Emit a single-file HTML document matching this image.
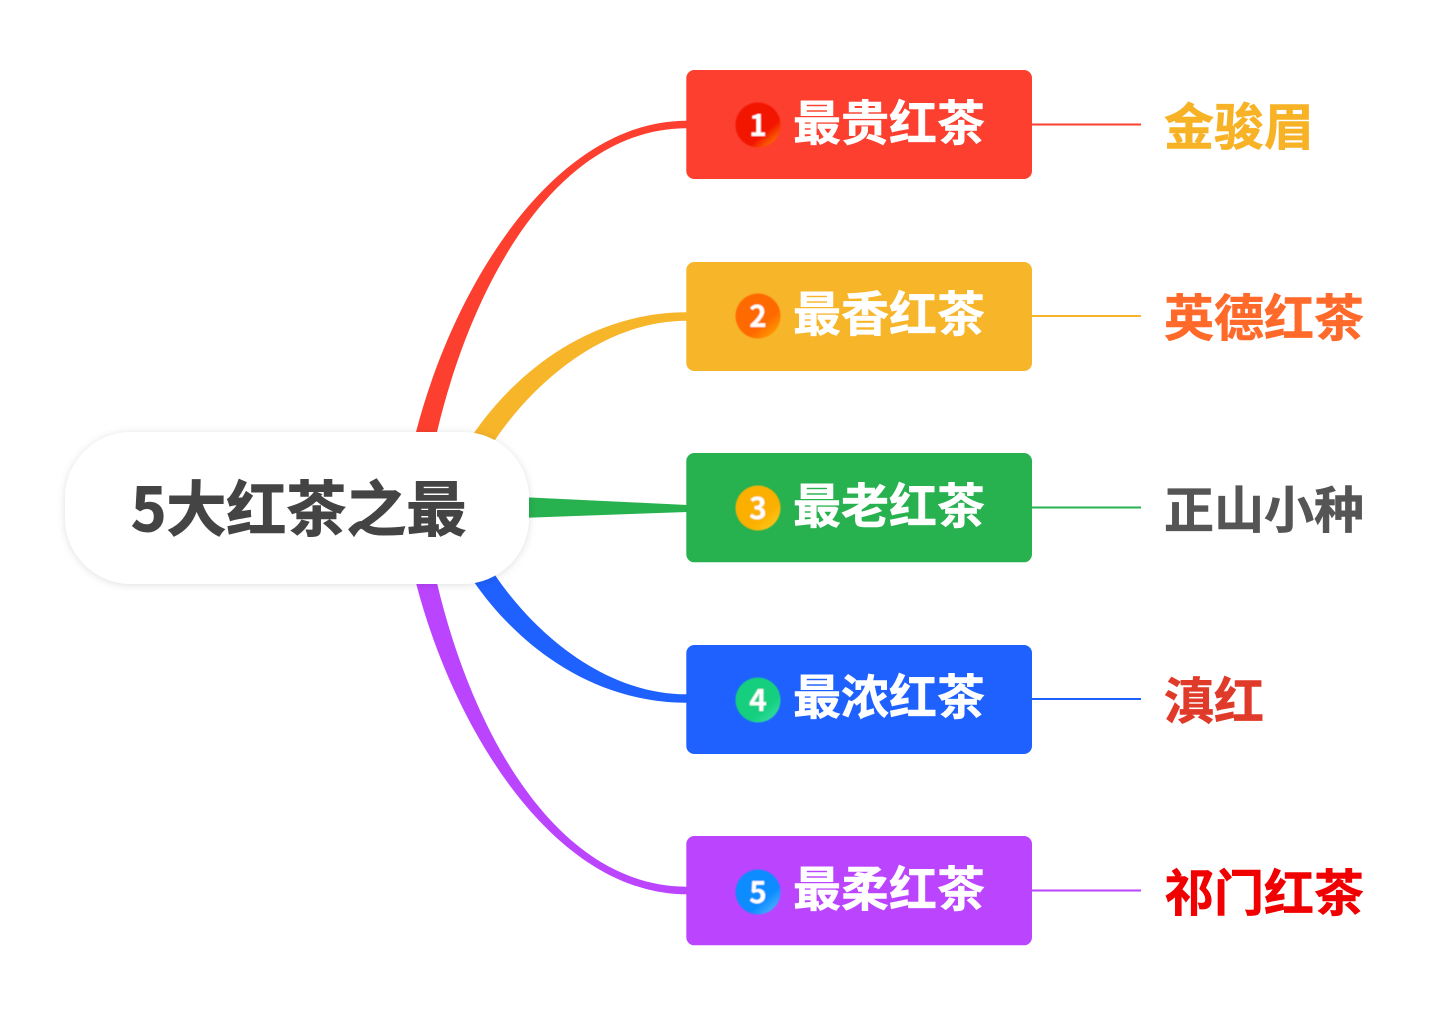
<!DOCTYPE html>
<html lang="zh"><head><meta charset="utf-8"><title>5大红茶之最</title>
<style>
html,body{margin:0;padding:0;background:#fff;width:1440px;height:1015px;overflow:hidden}
svg{display:block;filter:blur(0.35px)}
text{font-family:"Noto Sans CJK SC","Liberation Sans",sans-serif;font-weight:700}
.b{font-size:48px;fill:#fff;stroke:#fff;stroke-width:.5px}
.r{font-size:50px;stroke-width:.6px}
.n{font-size:30px;fill:#fff;font-weight:700;text-anchor:middle}
</style></head><body>
<svg width="1440" height="1015" viewBox="0 0 1440 1015" xmlns="http://www.w3.org/2000/svg">
<defs>
<linearGradient id="g1" x1="0.2" y1="0.2" x2="0.9" y2="1"><stop offset="0.6" stop-color="#f21300"/><stop offset="1" stop-color="#ff8a00"/></linearGradient>
<linearGradient id="g2" x1="0.2" y1="0.2" x2="0.9" y2="1"><stop offset="0.6" stop-color="#ff6a00"/><stop offset="1" stop-color="#ffa800"/></linearGradient>
<linearGradient id="g3" x1="0.2" y1="0.2" x2="0.9" y2="1"><stop offset="0.6" stop-color="#fbb000"/><stop offset="1" stop-color="#ffcc22"/></linearGradient>
<linearGradient id="g4" x1="0.2" y1="0.2" x2="0.9" y2="1"><stop offset="0.6" stop-color="#12cf7e"/><stop offset="1" stop-color="#3fe0a8"/></linearGradient>
<linearGradient id="g5" x1="0.2" y1="0.2" x2="0.9" y2="1"><stop offset="0.6" stop-color="#0a8cff"/><stop offset="1" stop-color="#5cb8ff"/></linearGradient>
<filter id="sh" x="-10%" y="-20%" width="120%" height="140%"><feDropShadow dx="0" dy="1" stdDeviation="4" flood-color="#000" flood-opacity="0.13"/></filter>
<filter id="bl" x="-10%" y="-10%" width="120%" height="120%"><feGaussianBlur stdDeviation="0.6"/></filter>
</defs>

<path d="M414,440 L416,432 C455,282 556,120.7 687,120.7 L687,128.3 C560,128.3 474,276 437,432 L435,440 Z" fill="#FC3F2F"/>
<path d="M468,442 L474,433 C512,378 585,312.3 687,312.3 L687,320.7 C600,320.7 530,388 495,440 L492,446 Z" fill="#F7B52A"/>
<path d="M520,497 L687,505 L687,512 L520,518 Z" fill="#27B14F"/>
<path transform="matrix(1 0 0 -1 0 1015)" d="M468,442 L474,433 C512,378 585,312.3 687,312.3 L687,320.7 C600,320.7 530,388 495,440 L492,446 Z" fill="#1F61FF"/>
<path transform="matrix(1 0 0 -1 0 1015)" d="M414,440 L416,432 C455,282 556,120.7 687,120.7 L687,128.3 C560,128.3 474,276 437,432 L435,440 Z" fill="#BB44FF"/>

<rect x="65" y="432" width="464" height="152" rx="66" ry="66" fill="#fff" filter="url(#sh)"/>
<text x="131" y="531" style="font-size:60px;fill:#444;stroke:#444;stroke-width:1px">5大红茶之最</text>

<g stroke-width="2">
<line x1="1032" y1="124.5" x2="1141" y2="124.5" stroke="#FC3F2F"/>
<line x1="1032" y1="316" x2="1141" y2="316" stroke="#F7B52A"/>
<line x1="1032" y1="507.5" x2="1141" y2="507.5" stroke="#27B14F"/>
<line x1="1032" y1="699" x2="1141" y2="699" stroke="#1F61FF"/>
<line x1="1032" y1="890.5" x2="1141" y2="890.5" stroke="#BB44FF"/>
</g>

<rect x="686.3" y="70" width="345.7" height="109" rx="8" fill="#FC3F2F"/>
<rect x="686.3" y="262" width="345.7" height="109" rx="8" fill="#F7B52A"/>
<rect x="686.3" y="453" width="345.7" height="109.3" rx="8" fill="#27B14F"/>
<rect x="686.3" y="645" width="345.7" height="109" rx="8" fill="#1F61FF"/>
<rect x="686.3" y="836" width="345.7" height="109.3" rx="8" fill="#BB44FF"/>

<g filter="url(#bl)">
<circle cx="758" cy="125" r="22.5" fill="url(#g1)"/><text class="n" x="758" y="136">1</text>
<circle cx="758" cy="316" r="22.5" fill="url(#g2)"/><text class="n" x="758" y="327">2</text>
<circle cx="758" cy="508" r="22.5" fill="url(#g3)"/><text class="n" x="758" y="519">3</text>
<circle cx="758" cy="700" r="22.5" fill="url(#g4)"/><text class="n" x="758" y="711">4</text>
<circle cx="758" cy="892" r="22.5" fill="url(#g5)"/><text class="n" x="758" y="903">5</text>
</g>

<text class="b" x="793" y="140">最贵红茶</text>
<text class="b" x="793" y="331">最香红茶</text>
<text class="b" x="793" y="523">最老红茶</text>
<text class="b" x="793" y="714">最浓红茶</text>
<text class="b" x="793" y="906">最柔红茶</text>

<text class="r" x="1164" y="145" fill="#F7B225" stroke="#F7B225">金骏眉</text>
<text class="r" x="1164" y="336" fill="#FF6A2B" stroke="#FF6A2B">英德红茶</text>
<text class="r" x="1164" y="528" fill="#555555" stroke="#555555">正山小种</text>
<text class="r" x="1164" y="719" fill="#E03A2A" stroke="#E03A2A">滇红</text>
<text class="r" x="1164" y="911" fill="#F00000" stroke="#F00000">祁门红茶</text>
</svg>
</body></html>
